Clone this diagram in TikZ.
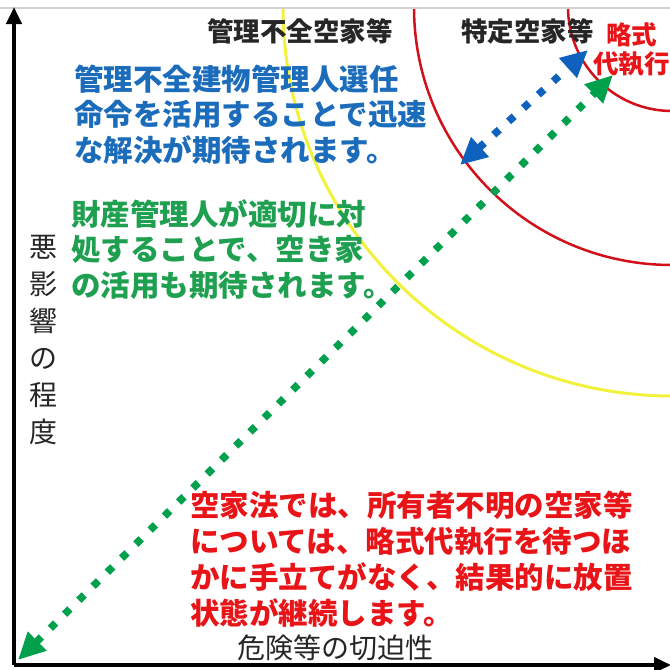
\documentclass[tikz,border=0pt]{standalone}
\usepackage{fontspec}
\newfontfamily\jp{Noto Sans CJK JP}
\usetikzlibrary{arrows.meta}
\definecolor{tblue}{RGB}{28,108,188}
\definecolor{tgreen}{RGB}{30,160,80}
\definecolor{tred}{RGB}{232,20,24}
\definecolor{ablue}{RGB}{14,98,190}
\definecolor{agreen}{RGB}{0,160,76}
\definecolor{arcred}{RGB}{210,16,26}
\definecolor{arcyellow}{RGB}{242,242,60}
\tikzset{
  txt/.style={inner sep=0pt, anchor=base west},
  bigtxt/.style={txt, font=\jp\bfseries\fontsize{29.5}{36}\selectfont},
  headtxt/.style={txt, font=\jp\bfseries\fontsize{26.5}{32}\selectfont, text=black!85},
  axtxt/.style={inner sep=0pt, font=\jp\fontsize{28}{37}\selectfont, text=black!85},
  axisline/.style={line width=4pt, black, -{Triangle[length=17pt,width=15pt]}},
  dotarrow/.style={line width=7.5pt, dash pattern=on 7.5pt off 12.5pt, <->, >={Triangle[length=27pt,width=25pt]}},
  arcline/.style={line width=2.5pt},
}
\begin{document}
\begin{tikzpicture}[x=1pt,y=-1pt]
\useasboundingbox (0,0) rectangle (670,670);
\fill[white] (0,0) rectangle (670,670);
\draw[gray!35, line width=1.5pt] (0,8) -- (670,8);
% arcs
\coordinate (C) at (672,7);
\begin{scope}
\clip (0,9) rectangle (670,670);
\draw[arcline, arcyellow, line width=3pt] (C) circle[radius=389pt];
\draw[arcline, arcred] (C) circle[radius=258pt];
\draw[arcline, arcred] (C) circle[radius=104pt];
\end{scope}
% axes
\coordinate (O) at (14,665);
\coordinate (Ytop) at (14,7);
\coordinate (Xend) at (671,665);
\draw[axisline] (O) -- (Ytop);
\draw[axisline] (O) -- (Xend);
% headings
\node[headtxt] (h1) at (207,41) {管理不全空家等};
\node[headtxt] (h2) at (461,41) {特定空家等};
\node[inner sep=0pt, align=center, font=\jp\bfseries\fontsize{25.5}{29}\selectfont, text=tred] (h3) at (631.5,50) {略式\\代執行};
% blue text
\node[bigtxt, text=tblue] (b1) at (74,90) {管理不全建物管理人選任};
\node[bigtxt, text=tblue] (b2) at (74,125) {命令を活用することで迅速};
\node[bigtxt, text=tblue] (b3) at (74,161) {な解決が期待されます。};
% green text
\node[bigtxt, text=tgreen] (g1) at (71,225) {財産管理人が適切に対};
\node[bigtxt, text=tgreen] (g2) at (71,260) {処することで、空き家};
\node[bigtxt, text=tgreen] (g3) at (71,296) {の活用も期待されます。};
% red text
\node[bigtxt, text=tred] (r1) at (190,516) {空家法では、所有者不明の空家等};
\node[bigtxt, text=tred] (r2) at (190,552) {については、略式代執行を待つほ};
\node[bigtxt, text=tred] (r3) at (190,588) {かに手立てがなく、結果的に放置};
\node[bigtxt, text=tred] (r4) at (190,624) {状態が継続します。};
% axis labels
\node[axtxt, anchor=base west] (xl) at (237,658) {危険等の切迫性};
\node[axtxt, align=center] (yl) at (43,340) {悪\\影\\響\\の\\程\\度};
% arrows
\coordinate (bA) at (460,165);
\coordinate (bB) at (588,50);
\coordinate (gA) at (18,660);
\coordinate (gB) at (613,75);
\draw[dotarrow, ablue] (bA) -- (bB);
\draw[dotarrow, agreen] (gA) -- (gB);
\end{tikzpicture}
\end{document}
